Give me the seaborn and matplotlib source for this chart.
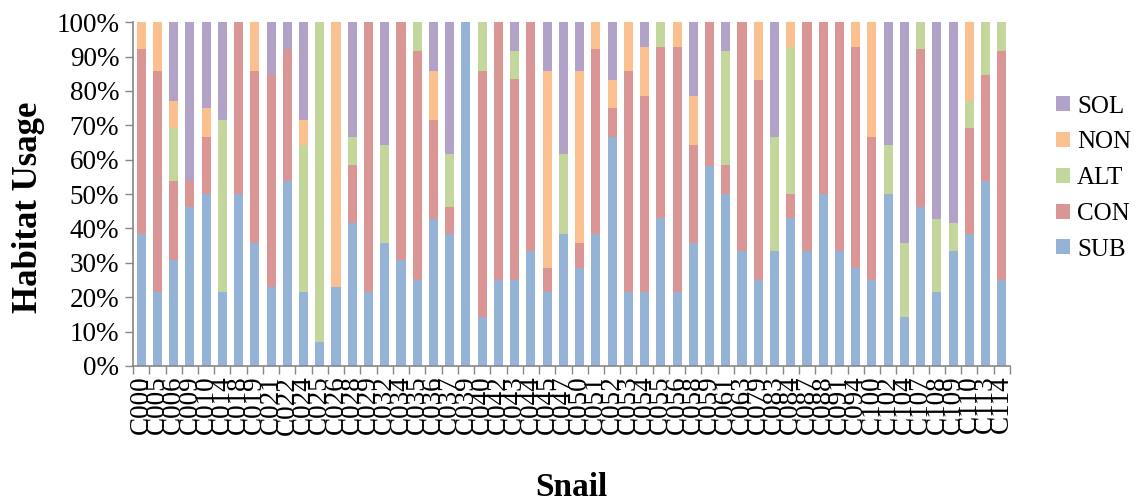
import numpy as np
import pandas as pd
import seaborn as sns
import matplotlib
matplotlib.use("Agg")
import matplotlib.pyplot as plt
from matplotlib.patches import Patch
from matplotlib.ticker import FixedLocator, FuncFormatter

snails = ["C000", "C005", "C006", "C009", "C010", "C014", "C018", "C019", "C021", "C022",
          "C024", "C025", "C026", "C028", "C029", "C032", "C034", "C035", "C036", "C037",
          "C039", "C040", "C042", "C043", "C044", "C045", "C047", "C050", "C051", "C052",
          "C053", "C054", "C055", "C056", "C058", "C059", "C061", "C063", "C079", "C083",
          "C084", "C087", "C088", "C091", "C094", "C100", "C102", "C104", "C107", "C108",
          "C109", "C110", "C113", "C114"]

sub = [38.5, 21.4, 30.8, 46.2, 50.0, 21.4, 50.0, 35.7, 23.1, 53.8,
       21.4, 7.0, 23.1, 41.7, 21.4, 35.7, 30.8, 25.0, 42.9, 38.5,
       100.0, 14.3, 25.0, 25.0, 33.3, 21.4, 38.5, 28.6, 38.5, 66.7,
       21.4, 21.4, 42.9, 21.4, 35.7, 58.3, 50.0, 33.3, 25.0, 33.3,
       42.9, 33.3, 50.0, 33.3, 28.6, 25.0, 50.0, 14.3, 46.2, 21.4,
       33.3, 38.5, 53.8, 25.0]
con = [53.8, 64.3, 23.1, 7.7, 16.7, 0, 50.0, 50.0, 61.5, 38.5,
       0, 0, 0, 16.7, 78.6, 0, 69.2, 66.7, 28.6, 7.7,
       0, 71.4, 75.0, 58.3, 66.7, 7.1, 0, 7.1, 53.8, 8.3,
       64.3, 57.1, 50.0, 71.4, 28.6, 41.7, 8.3, 66.7, 58.3, 0,
       7.1, 66.7, 50.0, 66.7, 64.3, 41.7, 0, 0, 46.2, 0,
       0, 30.8, 30.8, 66.7]
alt = [0, 0, 15.4, 0, 0, 50.0, 0, 0, 0, 0,
       42.9, 93.0, 0, 8.3, 0, 28.6, 0, 8.3, 0, 15.4,
       0, 14.3, 0, 8.3, 0, 0, 23.1, 0, 0, 0,
       0, 0, 7.1, 0, 0, 0, 33.3, 0, 0, 33.3,
       42.9, 0, 0, 0, 0, 0, 14.3, 21.4, 7.7, 21.4,
       8.3, 7.7, 15.4, 8.3]
non = [7.7, 14.3, 7.7, 0, 8.3, 0, 0, 14.3, 0, 0,
       7.1, 0, 76.9, 0, 0, 0, 0, 0, 14.3, 0,
       0, 0, 0, 0, 0, 57.1, 0, 50.0, 7.7, 8.3,
       14.3, 14.3, 0, 7.1, 14.3, 0, 0, 0, 16.7, 0,
       7.1, 0, 0, 0, 7.1, 33.3, 0, 0, 0, 0,
       0, 23.1, 0, 0]
sol = [0, 0, 23.1, 46.2, 25.0, 28.6, 0, 0, 15.4, 7.7,
       28.6, 0, 0, 33.3, 0, 35.7, 0, 0, 14.3, 38.5,
       0, 0, 0, 8.3, 0, 14.3, 38.5, 14.3, 0, 16.7,
       0, 7.1, 0, 0, 21.4, 0, 8.3, 0, 0, 33.3,
       0, 0, 0, 0, 0, 0, 35.7, 64.3, 0, 57.1,
       58.3, 0, 0, 0]

series_names = ["SUB", "CON", "ALT", "NON", "SOL"]
colors = {"SUB": "#95B3D7", "CON": "#D99694", "ALT": "#C3D69B",
          "NON": "#FAC090", "SOL": "#B3A2C7"}

df = pd.DataFrame({"Snail": snails, "SUB": sub, "CON": con, "ALT": alt,
                   "NON": non, "SOL": sol})
# 100% stacked: normalise each snail's shares so the stack reaches exactly 100%
shares = df[series_names].div(df[series_names].sum(axis=1), axis=0) * 100
cum = shares.cumsum(axis=1)

sns.set_theme(style="white")
plt.rcParams["font.family"] = ["Liberation Serif", "DejaVu Serif"]
plt.rcParams["text.color"] = "black"
plt.rcParams["axes.labelcolor"] = "black"
plt.rcParams["xtick.color"] = "black"
plt.rcParams["ytick.color"] = "black"

fig = plt.figure(figsize=(11.43, 5.04), dpi=100)
ax = fig.add_axes([0.1164, 0.274, 0.7672, 0.682])

# draw stacked bars as overlapping cumulative bars, top segment first
for name in reversed(series_names):
    sns.barplot(x=df["Snail"], y=cum[name], color=colors[name],
                order=snails, width=0.56, saturation=1, linewidth=0,
                ax=ax, errorbar=None)

ax.set_xlim(-0.5, len(snails) - 0.5)
ax.set_ylim(0, 100)
ax.yaxis.set_major_locator(FixedLocator(np.arange(0, 101, 10)))
ax.yaxis.set_major_formatter(FuncFormatter(lambda v, p: f"{v:.0f}%"))

ax.set_xticks(range(len(snails)))
ax.set_xticklabels(snails, rotation=90)
ax.set_xticks(np.arange(-0.5, len(snails), 1.0), minor=True)
ax.tick_params(axis="x", which="major", length=0, pad=7, labelsize=19.5, labelcolor="black")
ax.tick_params(axis="x", which="minor", length=6, width=1, color="#868686", direction="out")
ax.tick_params(axis="y", which="major", length=6, width=1, color="#868686",
               direction="out", labelsize=19.5, labelcolor="black", pad=4)
ax.tick_params(bottom=True, left=True, which="both")

for s in ["top", "right"]:
    ax.spines[s].set_visible(False)
for s in ["left", "bottom"]:
    ax.spines[s].set_color("#868686")
    ax.spines[s].set_linewidth(1.2)

ax.set_ylabel("Habitat Usage", fontsize=25, fontweight="bold", color="black")
ax.yaxis.set_label_coords(-0.10, 0.46)
ax.set_xlabel("Snail", fontsize=24, fontweight="bold", color="black")
ax.xaxis.set_label_coords(0.5, -0.31)

handles = [Patch(facecolor=colors[n], edgecolor="none", label=n)
           for n in reversed(series_names)]
leg = fig.legend(handles=handles, loc="upper left", bbox_to_anchor=(0.915, 0.83),
                 frameon=False, fontsize=18, handlelength=0.55, handleheight=0.55,
                 handletextpad=0.3, labelspacing=0.55, borderaxespad=0)
for t in leg.get_texts():
    t.set_color("black")

fig.savefig("out.png", dpi=100)
